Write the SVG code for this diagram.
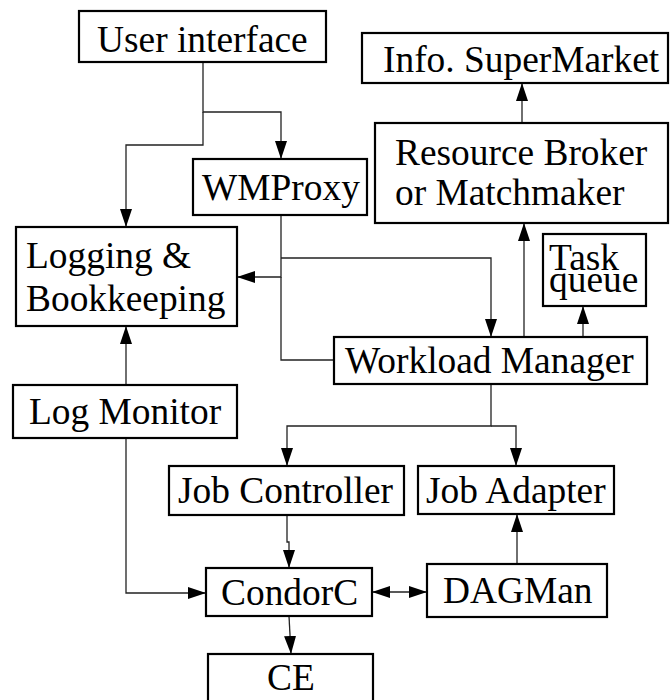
<svg xmlns="http://www.w3.org/2000/svg" width="670" height="700" viewBox="0 0 670 700">
<style>
.box{fill:#fff;stroke:#000;stroke-width:2.2}
.t{font-family:"Liberation Serif","Times New Roman",serif;font-size:37.4px;fill:#000}
.c{fill:none;stroke:#222;stroke-width:1.3}
.a{marker-end:url(#ah)}
.b{marker-end:url(#ah);marker-start:url(#ah)}
</style>
<defs>
<marker id="ah" markerUnits="userSpaceOnUse" markerWidth="18" markerHeight="12" refX="18" refY="6" orient="auto-start-reverse">
<path d="M0,0 L18,6 L0,12 z" fill="#000"/>
</marker>
</defs>
<rect width="670" height="700" fill="#fff"/>
<g id="connectors">
<path class="c a" d="M203,62 V112 H281 V159"/>
<path class="c a" d="M203,112 V145 H126 V227"/>
<path class="c a" d="M281,215 V277 H237"/>
<path class="c a" d="M281,258 H491 V337"/>
<path class="c" d="M281,277 V360 H334"/>
<path class="c a" d="M524,337 V223"/>
<path class="c a" d="M583,337 V306"/>
<path class="c a" d="M522,123 V83"/>
<path class="c a" d="M491,384 V426 H287 V466"/>
<path class="c a" d="M491,426 H516 V466"/>
<path class="c a" d="M126,385 V326"/>
<path class="c a" d="M126,438 V593 H206"/>
<path class="c a" d="M287,515 V542 H289 V568"/>
<path class="c b" d="M372,592 H427"/>
<path class="c a" d="M517,564 V514"/>
<path class="c a" d="M289,616 L291,654"/>
</g>
<g id="user-interface"><rect class="box" x="79" y="11" width="247" height="51"/><text class="t" x="97" y="52">User interface</text></g>
<g id="wmproxy"><rect class="box" x="193" y="159" width="174" height="56"/><text class="t" x="202" y="200">WMProxy</text></g>
<g id="info-supermarket"><rect class="box" x="362" y="33" width="306" height="50"/><text class="t" x="383" y="72">Info. SuperMarket</text></g>
<g id="resource-broker"><rect class="box" x="375" y="123" width="293" height="100"/><text class="t" x="395" y="165">Resource Broker</text><text class="t" x="395" y="205">or Matchmaker</text></g>
<g id="logging-bookkeeping"><rect class="box" x="16" y="227" width="221" height="99"/><text class="t" x="26" y="268">Logging &amp;</text><text class="t" x="26" y="311">Bookkeeping</text></g>
<g id="task-queue"><rect class="box" x="543" y="234" width="103" height="72"/><text class="t"><tspan x="549" y="270">Task</tspan><tspan x="549" y="292">queue</tspan></text></g>
<g id="workload-manager"><rect class="box" x="334" y="337" width="313" height="47"/><text class="t" x="345" y="373">Workload Manager</text></g>
<g id="log-monitor"><rect class="box" x="13" y="385" width="224" height="53"/><text class="t" x="29" y="424">Log Monitor</text></g>
<g id="job-controller"><rect class="box" x="169" y="466" width="235" height="49"/><text class="t" x="178" y="503">Job Controller</text></g>
<g id="job-adapter"><rect class="box" x="418" y="466" width="196" height="48"/><text class="t" x="426" y="503">Job Adapter</text></g>
<g id="condorc"><rect class="box" x="206" y="568" width="166" height="48"/><text class="t" x="221" y="605">CondorC</text></g>
<g id="dagman"><rect class="box" x="427" y="564" width="180" height="53"/><text class="t" x="443" y="603">DAGMan</text></g>
<g id="ce"><rect class="box" x="208" y="654" width="165" height="55"/><text class="t" x="267" y="690">CE</text></g>
</svg>
